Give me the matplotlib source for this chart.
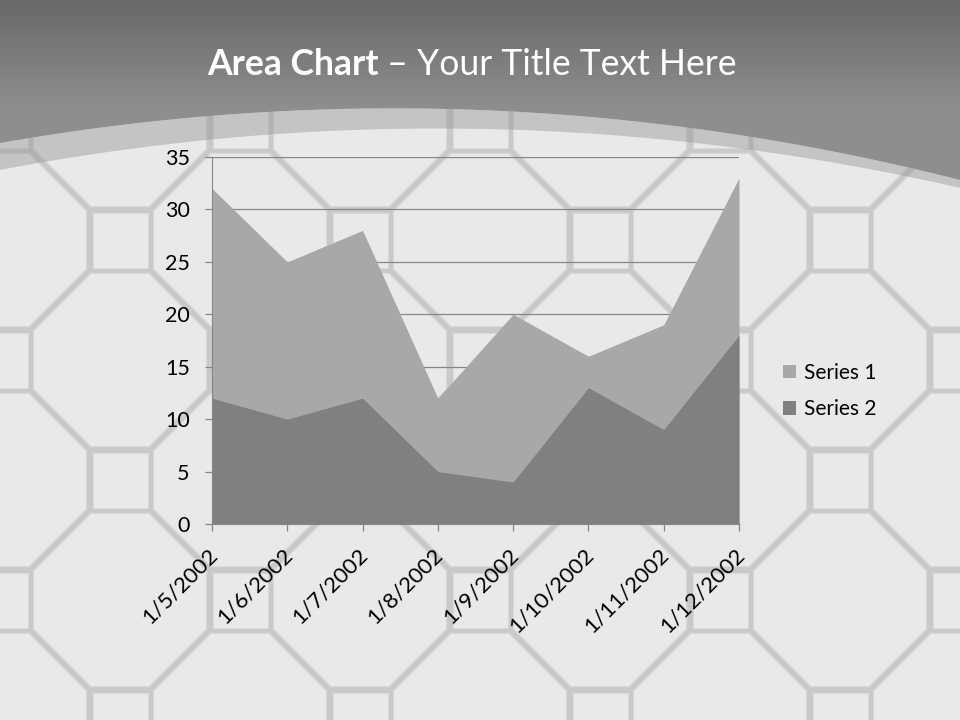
import numpy as np
import matplotlib.pyplot as plt
from matplotlib.patches import Polygon, Rectangle
import matplotlib.transforms as mtransforms

plt.rcParams['font.family'] = ['Lato', 'DejaVu Sans']

# chart data
dates = ['1/5/2002', '1/6/2002', '1/7/2002', '1/8/2002',
         '1/9/2002', '1/10/2002', '1/11/2002', '1/12/2002']
series1 = [32, 25, 28, 12, 20, 16, 19, 33]
series2 = [12, 10, 12, 5, 4, 13, 9, 18]
names = ['Series 1', 'Series 2']

fig = plt.figure(figsize=(9.6, 7.2), dpi=100)

# background slide (pixel coords)
bg = fig.add_axes([0, 0, 1, 1])
bg.axis('off')
bg.add_patch(Rectangle((0, 0), 960, 720, color='#c9c9c9', zorder=0))

# octagon + square tiles
for a in range(-1, 10):
    for b in range(-1, 8):
        cx, cy = 120 * a, 120 * b
        if (a + b) % 2 == 0:
            h, c = 86.5, 29
            pts = [(h, c), (c, h), (-c, h), (-h, c), (-h, -c), (-c, -h), (c, -h), (h, -c)]
        else:
            s = 27.5
            pts = [(s, s), (-s, s), (-s, -s), (s, -s)]
        bg.add_patch(Polygon([(cx + px, cy + py) for px, py in pts], closed=True,
                             fc='#e9e9e9', ec='#dadada', lw=0.9, joinstyle='round', zorder=1))

# header with curved lower edge
xs = np.linspace(0, 960, 200)
outer = 108.4 + 2.235e-4 * (xs - 394) ** 2
inner = 128.5 + 2.17e-4 * (xs - 437) ** 2
band = Polygon(np.r_[np.c_[xs, outer], np.c_[xs[::-1], inner[::-1]]],
               closed=True, fc='#8e8e8e', alpha=0.4, ec='none', zorder=2)
bg.add_patch(band)
head = Polygon(np.r_[[[0, 0]], np.c_[xs, outer], [[960, 0]]], closed=True,
               fc='none', ec='none', zorder=2)
bg.add_patch(head)
yy = np.linspace(0, 200, 200)
lev = 0.41 + 0.15 * np.clip(yy / 110, 0, 1)
grad = np.repeat(lev[:, None, None], 3, axis=2)
im = bg.imshow(grad, extent=(0, 960, 200, 0), aspect='auto', zorder=3)
im.set_clip_path(head)
bg.set_xlim(0, 960)
bg.set_ylim(720, 0)

# title
t1 = fig.text(0, 1 - 75 / 720, 'Area Chart', fontsize=25.6, fontweight='bold',
              color='white', va='baseline')
t2 = fig.text(0, 1 - 75 / 720, ' \u2013 Your Title Text Here', fontsize=25.6,
              color='white', va='baseline')
r = fig.canvas.get_renderer()
w1 = t1.get_window_extent(r).width
w2 = t2.get_window_extent(r).width
x0 = 472 - (w1 + w2) / 2
t1.set_x(x0 / 960)
t2.set_x((x0 + w1) / 960)

# chart
ax = fig.add_axes([212 / 960, 1 - 524 / 720, (739 - 212) / 960, (524 - 157) / 720])
ax.patch.set_alpha(0)
x = np.arange(len(dates))
ax.fill_between(x, 0, series1, color='#a8a8a8', lw=0, label=names[0])
ax.fill_between(x, 0, series2, color='#808080', lw=0, label=names[1])
ax.set_xlim(0, len(dates) - 1)
ax.set_ylim(0, 35)
ax.set_yticks(range(0, 36, 5))
ax.yaxis.grid(True, color='#868686', lw=0.9)
ax.set_axisbelow(True)
for s in ['top', 'right']:
    ax.spines[s].set_visible(False)
for s in ['left', 'bottom']:
    ax.spines[s].set_color('#868686')
ax.tick_params(direction='out', length=5, width=0.9, color='#868686', labelcolor='black')
ax.tick_params(axis='y', pad=11, labelsize=15.5)
ax.tick_params(axis='x', pad=10, labelsize=16)
ax.set_xticks(x)
ax.set_xticklabels(dates, rotation=45, ha='right', rotation_mode='anchor')
off = mtransforms.ScaledTranslation(-5 / 100, 0, fig.dpi_scale_trans)
for lb in ax.get_xticklabels():
    lb.set_transform(lb.get_transform() + off)

ax.legend(loc='center left', bbox_to_anchor=(783 / 960, 1 - 391 / 720),
          bbox_transform=fig.transFigure, frameon=False, fontsize=15,
          handlelength=0.6, handleheight=0.6, handletextpad=0.4,
          labelspacing=0.8, borderpad=0, borderaxespad=0)

fig.savefig('out.png', dpi=100)
